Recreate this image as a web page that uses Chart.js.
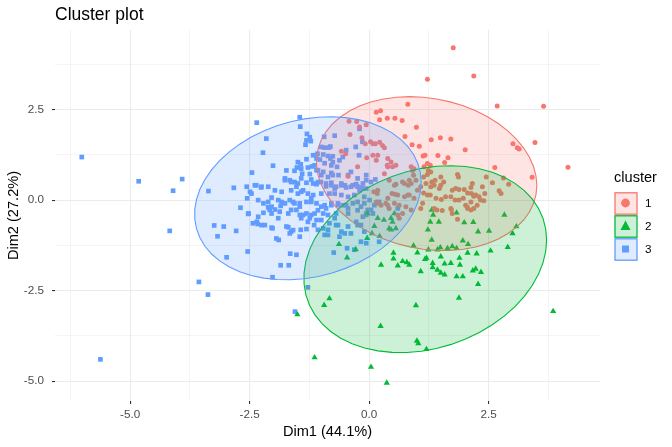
<!DOCTYPE html>
<html>
<head>
<meta charset="utf-8">
<script src="https://cdn.jsdelivr.net/npm/chart.js@4.4.1/dist/chart.umd.min.js"></script>
<style>
  body { margin: 0; background: #fff; font-family: "Liberation Sans", Arial, sans-serif; }
  #wrap { position: relative; width: 672px; height: 447px; }
  #plotTitle { position: absolute; left: 55px; top: 4px; font-size: 17.5px; line-height: 20px; color: #000; }
  .legendTitle { position: absolute; left: 614px; top: 169px; font-size: 14.6px; line-height: 17px; color: #000; }
  .key { position: absolute; left: 614px; width: 24px; height: 23px; }
  .keyLabel { position: absolute; left: 645px; font-size: 11.7px; line-height: 14px; color: #000; }
</style>
</head>
<body>
<div id="wrap">
  <canvas id="clusterChart" width="672" height="447"></canvas>
  <div id="plotTitle">Cluster plot</div>
  <div id="legend"></div>
</div>
<script>
// Cluster labels and colours (ggplot default hues)
const clusterNames = ['1', '2', '3'];
const clusterColors = ['#F8766D', '#00BA38', '#619CFF'];
const clusterFills = ['rgba(248,118,109,0.2)', 'rgba(0,186,56,0.2)', 'rgba(97,156,255,0.2)'];
const clusterShapes = ['circle', 'triangle', 'rect'];

// Axis ticks
const dim1MajorTicks = [-5, -2.5, 0, 2.5];
const dim1MinorTicks = [-6.25, -3.75, -1.25, 1.25, 3.75];
const dim2MajorTicks = [-5, -2.5, 0, 2.5];
const dim2MinorTicks = [-3.75, -1.25, 1.25, 3.75];

// Points: [Dim1, Dim2]
const cluster1 = [
  [1.76,4.21],[1.22,3.34],[2.19,3.43],[2.68,2.60],[3.65,2.59],[0.81,2.65],[0.15,2.43],[0.24,2.47],
  [0.22,2.22],[0.38,2.26],[0.54,2.26],[0.69,2.20],[0.99,2.01],[0.75,1.76],[1.30,1.67],[1.49,1.72],
  [1.71,1.69],[2.01,1.39],[0.90,1.53],[1.05,1.49],[1.13,1.22],[1.44,1.23],[1.65,1.17],[1.58,1.04],
  [3.01,1.56],[3.10,1.45],[3.14,1.41],[3.47,1.59],[4.16,0.91],[2.63,0.90],[3.41,0.63],[1.22,1.01],
  [1.28,0.96],[1.24,0.82],[1.29,0.78],[1.22,0.71],[1.85,0.71],[1.87,0.64],[1.50,0.64],[2.45,0.64],
  [2.58,0.48],[2.81,0.61],[2.92,0.44],[2.72,0.26],[2.76,0.18],[2.37,0.37],[2.42,0.18],[2.13,0.35],
  [2.16,0.46],[1.99,0.29],[1.88,0.29],[2.06,0.20],[2.14,0.18],[2.23,0.14],[2.33,0.00],[2.40,-0.02],
  [2.26,-0.14],[1.74,0.27],[1.60,0.09],[1.71,0.09],[1.80,0.00],[1.50,0.41],[1.36,0.41],[1.31,0.50],
  [1.38,0.55],[1.29,0.37],[1.19,0.46],[1.14,0.64],[1.08,0.37],[1.01,0.27],[1.28,0.14],[1.40,0.05],
  [1.51,0.02],[1.12,-0.09],[1.08,-0.23],[0.91,0.82],[0.88,0.92],[0.93,0.69],[0.98,0.55],[0.84,0.55],
  [0.74,0.46],[0.82,0.41],[0.56,0.44],[0.54,0.16],[0.42,0.55],[0.39,0.92],[0.32,0.73],[0.22,1.60],
  [0.28,1.51],[0.32,1.45],[0.18,1.24],[0.15,1.10],[0.08,1.24],[0.39,1.15],[0.46,1.05],[0.49,0.92],
  [0.17,0.18],[0.18,-0.09],[0.39,-0.14],[0.42,-0.23],[0.74,0.09],[0.77,-0.18],[1.56,0.50],[1.47,0.32],
  [1.81,0.32],[2.19,0.11],[2.30,0.09],[1.14,0.20],[1.22,0.14],[1.88,0.00],[1.97,0.05],[2.13,-0.05],
  [2.02,-0.14],[2.06,-0.23],[2.13,-0.27],[2.19,-0.23],[1.36,-0.23],[1.42,-0.27],[1.53,-0.29],[1.71,-0.23],
  [1.74,-0.37],[1.85,-0.53],[0.88,-0.27],[0.70,-0.37],[0.63,-0.14],[0.53,-0.09],[0.48,0.18],[0.35,-0.09],
  [0.25,-0.14],[0.15,-0.05],[0.84,0.14],[0.94,0.05],[0.88,0.46],[0.94,0.87],[1.15,0.92],[1.17,1.24],
  [0.08,1.56],[0.38,0.96],[0.56,0.96],[0.18,0.27],[0.10,0.23],[-0.42,2.18],[-0.26,2.17],[-0.06,2.08],
  [-0.40,1.81],[-0.15,1.72],[-0.08,1.56],[0.03,1.61],[0.13,1.56],[-0.58,1.35],[-0.49,1.28],[-0.05,1.17],
  [-0.24,0.92],[-0.44,0.66],[0.39,0.05],[0.60,0.14],[0.53,0.41],[0.70,0.50],[0.81,0.14],[0.60,-0.41],
  [0.63,-0.50],[1.72,-0.26],[2.05,-0.18],[-0.20,2.02]
];

const cluster2 = [
  [1.31,-0.27],[1.34,-0.41],[1.28,-0.60],[1.46,-0.60],[1.23,-0.82],[1.83,-0.35],[1.99,-0.62],[2.18,-0.61],
  [2.28,-0.87],[2.51,-0.85],[2.83,-0.41],[3.08,-0.73],[3.00,-0.92],[2.90,-1.30],[2.54,-1.40],[2.25,-1.48],
  [2.06,-1.46],[1.96,-1.12],[2.07,-1.22],[1.83,-1.33],[1.64,-1.33],[1.49,-1.31],[1.31,-1.10],[1.24,-1.37],
  [1.01,-1.45],[0.93,-1.26],[0.51,-1.46],[0.51,-1.62],[0.70,-1.69],[0.60,-1.81],[0.25,-1.79],[1.08,-1.97],
  [1.17,-1.63],[1.20,-1.60],[1.33,-1.74],[1.33,-1.86],[1.50,-1.56],[1.58,-1.76],[1.71,-1.74],[1.50,-2.01],
  [1.89,-1.60],[1.90,-1.79],[1.83,-2.11],[1.96,-2.11],[2.17,-1.95],[2.23,-1.90],[2.34,-1.99],[2.28,-2.32],
  [1.88,-2.70],[0.98,-2.91],[0.24,-3.48],[1.00,-3.89],[1.03,-3.96],[1.20,-4.12],[-0.83,-2.72],[-0.94,-2.90],
  [-1.14,-4.35],[0.04,-4.61],[0.37,-5.05],[3.85,-3.07],[0.18,-0.50],[0.31,-0.55],[0.49,-0.60],[0.06,-0.92],
  [-0.04,-1.05],[-0.63,-1.22],[-0.46,-1.59],[-0.28,-1.36],[0.11,-0.72],[0.46,-0.82],[0.46,-0.50],[0.42,-0.78],
  [0.53,-0.37],[0.56,-0.78],[-0.03,-0.37],[0.84,-1.79],[1.43,-1.93],[1.43,-1.37],[1.74,-1.28],[-1.50,-3.16],
  [0.79,-1.72],[1.58,-2.06],[0.22,-1.00]
];

const cluster3 = [
  [-6.01,1.19],[-4.82,0.52],[-3.91,0.58],[-4.10,0.26],[-3.36,0.25],[-2.83,0.34],[-2.69,-0.21],[-5.62,-4.40],
  [-4.17,-0.85],[-3.56,-2.26],[-3.37,-2.61],[-1.55,-3.08],[-2.02,-2.13],[-1.85,-1.80],[-1.68,-1.80],[-2.35,2.14],
  [-2.15,1.70],[-2.22,1.31],[-2.01,0.95],[-2.45,0.76],[-2.56,0.37],[-2.36,0.41],[-2.25,0.37],[-2.52,-0.37],
  [-2.55,0.05],[-3.24,-0.70],[-3.04,-0.73],[-3.17,-1.00],[-2.78,-0.85],[-2.98,-1.58],[-2.54,-1.42],[-1.89,-1.10],
  [-2.02,-0.78],[-2.43,-0.64],[-2.33,-0.66],[-2.25,-0.69],[-1.45,2.29],[-1.44,2.03],[-1.30,1.83],[-1.24,1.74],
  [-1.31,1.65],[-1.22,1.63],[-1.33,1.53],[-0.72,1.78],[-0.81,1.48],[-1.00,1.47],[-0.93,1.45],[-0.84,1.45],
  [-1.17,1.24],[-1.08,1.28],[-0.96,1.26],[-0.86,1.22],[-1.31,1.13],[-1.49,1.05],[-1.43,0.99],[-1.51,0.90],
  [-1.73,0.82],[-1.56,0.81],[-1.40,0.73],[-1.28,0.90],[-1.19,0.93],[-1.03,1.12],[-0.93,1.02],[-0.81,1.15],
  [-0.76,1.05],[-0.67,0.92],[-0.64,0.69],[-0.79,0.75],[-0.86,0.64],[-0.96,0.78],[-1.07,0.82],[-1.76,0.60],
  [-1.66,0.55],[-1.56,0.50],[-1.42,0.60],[-1.31,0.48],[-1.21,0.57],[-1.10,0.44],[-1.01,0.50],[-0.90,0.38],
  [-0.79,0.48],[-0.69,0.37],[-0.58,0.41],[-0.48,0.35],[-0.38,0.37],[-0.27,0.44],[-0.17,0.35],[-0.06,0.55],
  [0.04,0.50],[0.13,0.57],[-2.39,0.41],[-2.26,0.35],[-2.49,0.23],[-1.97,0.27],[-1.83,0.23],[-1.63,0.27],
  [-1.49,0.18],[-1.38,0.27],[-1.52,0.37],[-1.28,0.18],[-2.04,0.07],[-1.83,-0.05],[-2.21,-0.09],[-2.11,-0.20],
  [-1.97,-0.26],[-1.66,0.00],[-1.56,-0.09],[-1.45,-0.18],[-1.31,-0.05],[-1.21,0.05],[-1.10,-0.09],[-1.00,-0.18],
  [-0.90,-0.23],[-0.79,-0.14],[-0.65,-0.09],[-0.55,-0.14],[-0.44,-0.23],[-0.34,-0.09],[-0.24,-0.05],[-0.10,-0.09],
  [0.01,0.00],[0.11,-0.14],[0.21,-0.05],[-0.03,-0.27],[-1.38,-0.41],[-1.24,-0.50],[-1.63,-0.27],[-2.32,-0.46],
  [-1.90,-0.50],[-0.69,-0.37],[-2.53,-0.38],[-2.21,-0.35],[-2.08,-0.27],[-2.04,-0.18],[-1.85,-0.16],[-2.04,-0.76],
  [-1.69,-0.75],[-1.63,-0.87],[-1.43,-0.82],[-1.31,-0.80],[-1.65,-1.48],[-1.52,-1.51],[-1.28,-2.41],[-1.15,-0.69],
  [-1.10,-0.55],[-1.14,-0.37],[-1.52,-0.27],[-1.42,-0.50],[-1.31,-0.37],[-1.21,-0.41],[-0.72,-0.50],[-0.69,-0.69],
  [-0.58,-0.87],[-0.51,-0.92],[-0.62,-1.01],[-1.07,-0.82],[-0.96,-0.78],[-0.86,-0.82],[-0.93,-0.96],[-0.74,-1.45],
  [-0.46,-1.33],[-0.31,-1.37],[-0.17,-1.15],[-0.06,-1.19],[0.21,-1.15],[-0.27,-0.60],[-0.17,-0.69],[-0.13,-0.46],
  [-0.06,-0.37],[0.04,-0.27],[0.08,-0.37],[0.60,-0.23],[-0.72,0.32],[-0.58,0.46],[-0.34,0.41],[-0.13,0.46],
  [-0.06,0.32],[-0.20,0.27],[-0.94,1.75],[-0.48,1.38],[-0.28,1.47],[-0.14,1.61],[-0.21,1.24],[-0.20,1.97],
  // dense core
  [-1.42,0.87],[-1.14,0.96],[-1.10,1.15],[-0.76,1.21],[-0.62,1.10],[-0.55,1.19],[-0.79,0.96],[-1.24,0.72],
  [-1.10,0.83],[-1.00,0.69],[-0.76,0.69],[-0.44,0.69],[-0.38,0.78],[-0.24,0.60],[-0.06,0.69],[-1.76,0.55],
  [-1.63,0.50],[-1.49,0.46],[-1.17,0.46],[-1.07,0.50],[-0.90,0.46],[-0.79,0.41],[-0.51,0.41],[-0.24,0.37],
  [-0.13,0.32],[-2.11,0.37],[-1.42,0.23],[-1.17,0.14],[-1.00,0.18],[-0.83,0.18],[-0.72,0.18],[-0.58,0.14],
  [-0.44,0.09],[-0.31,0.14],[-0.10,0.09],[-2.46,0.18],[-2.32,0.00],[-2.11,-0.05],[-1.90,0.00],[-1.76,-0.09],
  [-1.59,-0.05],[-1.45,-0.09],[-1.21,-0.05],[-0.93,-0.14],[-0.79,-0.09],[-0.65,-0.14],[-0.48,-0.14],[-0.17,-0.18],
  [-2.04,-0.37],[-1.87,-0.32],[-1.69,-0.37],[-1.45,-0.41],[-1.07,-0.28],[-0.96,-0.37],[-0.86,-0.41],[-0.44,-0.37],
  [-0.24,-0.28],[-0.06,-0.41],[-2.35,-0.60],[-2.18,-0.69],[-1.73,-0.73],[-1.59,-0.83],[-1.28,-0.60],[-1.00,-0.55],
  [-0.83,-0.64],[-0.65,-0.69],[-0.44,-0.73],[-0.24,-0.69],[-0.10,-0.87],[-1.94,-1.06],[-1.66,-0.92],[-1.45,-1.01],
  [-0.86,-0.96],[-0.38,-0.92]
];

const clusters = [cluster1, cluster2, cluster3];
const ellipseLevel = 0.95;

/**
 * Normal data ellipse like ggplot's stat_ellipse(type = "norm")
 */
function normEllipse(points, level, segments) {
  const n = points.length;
  let mx = 0, my = 0;
  points.forEach(p => { mx += p[0]; my += p[1]; });
  mx /= n; my /= n;
  let sxx = 0, syy = 0, sxy = 0;
  points.forEach(p => {
    sxx += (p[0] - mx) * (p[0] - mx);
    syy += (p[1] - my) * (p[1] - my);
    sxy += (p[0] - mx) * (p[1] - my);
  });
  sxx /= (n - 1); syy /= (n - 1); sxy /= (n - 1);

  // Cholesky (upper) of the covariance
  const r11 = Math.sqrt(sxx);
  const r12 = sxy / r11;
  const r22 = Math.sqrt(syy - r12 * r12);

  // F(2, n-1) quantile has a closed form
  const d = n - 1;
  const qf = (d / 2) * (Math.pow(1 - level, -2 / d) - 1);
  const radius = Math.sqrt(2 * qf);

  const out = [];
  for (let i = 0; i <= segments; i++) {
    const t = (i / segments) * 2 * Math.PI;
    const c = Math.cos(t), s = Math.sin(t);
    out.push({ x: mx + radius * c * r11, y: my + radius * (c * r12 + s * r22) });
  }
  return out;
}

// Ellipses are drawn over the points, as in the original
const ellipsePlugin = {
  id: 'ellipses',
  afterDatasetsDraw(chart) {
    const ctx = chart.ctx;
    const xs = chart.scales.x, ys = chart.scales.y;
    const area = chart.chartArea;
    ctx.save();
    ctx.beginPath();
    ctx.rect(area.left, area.top, area.right - area.left, area.bottom - area.top);
    ctx.clip();
    clusters.forEach((pts, i) => {
      const poly = normEllipse(pts, ellipseLevel, 51);
      ctx.beginPath();
      poly.forEach((p, j) => {
        const px = xs.getPixelForValue(p.x), py = ys.getPixelForValue(p.y);
        if (j === 0) ctx.moveTo(px, py); else ctx.lineTo(px, py);
      });
      ctx.closePath();
      ctx.fillStyle = clusterFills[i];
      ctx.fill();
      ctx.strokeStyle = clusterColors[i];
      ctx.lineWidth = 1.1;
      ctx.stroke();
    });
    ctx.restore();
  }
};

function tickList(major, minor) {
  return major.concat(minor).sort((a, b) => a - b).map(v => ({ value: v }));
}

function isMajor(list, v) {
  return list.some(m => Math.abs(m - v) < 1e-9);
}

function axisOptions(major, minor, min, max, titleText, titlePadding, labelPadding) {
  return {
    type: 'linear',
    min: min,
    max: max,
    afterBuildTicks: scale => { scale.ticks = tickList(major, minor); },
    border: { display: false },
    grid: {
      color: '#EBEBEB',
      lineWidth: ctx => (ctx.tick && isMajor(major, ctx.tick.value)) ? 1.1 : 0.55,
      tickLength: 3,
      tickColor: ctx => (ctx.tick && isMajor(major, ctx.tick.value)) ? '#333333' : 'rgba(0,0,0,0)',
      tickWidth: 1.1
    },
    ticks: {
      color: '#4D4D4D',
      font: { family: '"Liberation Sans", Arial, sans-serif', size: 11.7 },
      padding: labelPadding,
      maxRotation: 0,
      autoSkip: false,
      callback: value => isMajor(major, value) ? value.toFixed(1) : ''
    },
    title: {
      display: true,
      text: titleText,
      color: '#000000',
      font: { family: '"Liberation Sans", Arial, sans-serif', size: 14.6 },
      padding: titlePadding
    }
  };
}

const xAxis = axisOptions(dim1MajorTicks, dim1MinorTicks, -6.57, 4.83, 'Dim1 (44.1%)', { top: 2, bottom: 6 }, 4);
xAxis.afterFit = scale => { scale.height = 46; };
const yAxis = axisOptions(dim2MajorTicks, dim2MinorTicks, -5.55, 4.70, 'Dim2 (27.2%)', { top: 5, bottom: 2 }, 8);
yAxis.afterFit = scale => { scale.width = 55; };

const datasets = clusters.map((pts, i) => ({
  label: clusterNames[i],
  data: pts.map(p => ({ x: p[0], y: p[1] })),
  pointStyle: clusterShapes[i],
  pointRadius: i === 0 ? 2.5 : (i === 1 ? 3.6 : 3.3),
  pointBackgroundColor: clusterColors[i],
  pointBorderWidth: 0,
  pointHoverRadius: 0
}));

new Chart(document.getElementById('clusterChart').getContext('2d'), {
  type: 'scatter',
  data: { datasets: datasets },
  options: {
    responsive: false,
    animation: false,
    layout: { padding: { top: 30, right: 72, left: 0, bottom: 0 } },
    plugins: {
      legend: { display: false },
      tooltip: { enabled: false }
    },
    scales: { x: xAxis, y: yAxis }
  },
  plugins: [ellipsePlugin]
});

// Legend built as HTML so it can mimic ggplot's keys
function buildLegend() {
  const legend = document.getElementById('legend');
  let html = '<div class="legendTitle">cluster</div>';
  const keyTops = [192, 215, 238];
  clusterNames.forEach((name, i) => {
    let symbol = '';
    if (clusterShapes[i] === 'circle') {
      symbol = '<circle cx="11.5" cy="11" r="4.4" fill="' + clusterColors[i] + '"/>';
    } else if (clusterShapes[i] === 'triangle') {
      symbol = '<polygon points="11.5,5.5 16.5,15 6.5,15" fill="' + clusterColors[i] + '"/>';
    } else {
      symbol = '<rect x="8" y="7.5" width="7" height="7" fill="' + clusterColors[i] + '"/>';
    }
    html += '<svg class="key" style="top:' + keyTops[i] + 'px" viewBox="0 0 24 23">' +
      '<rect x="1" y="0.8" width="22" height="21.4" fill="' + clusterFills[i] + '" stroke="' + clusterColors[i] + '" stroke-width="1.3"/>' +
      symbol + '</svg>';
    html += '<div class="keyLabel" style="top:' + (keyTops[i] + 4) + 'px">' + name + '</div>';
  });
  legend.innerHTML = html;
}
buildLegend();
</script>
</body>
</html>
